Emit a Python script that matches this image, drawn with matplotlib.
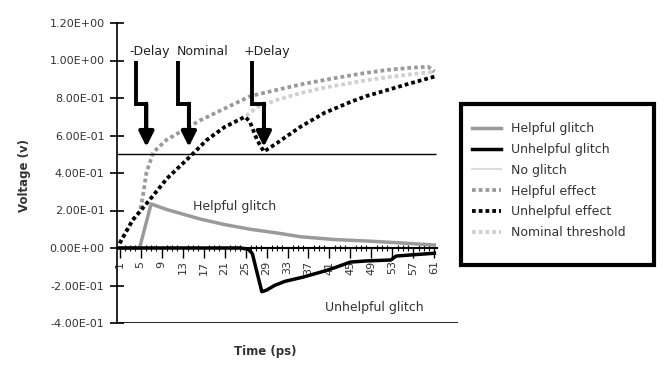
import matplotlib
matplotlib.use("Agg")
import matplotlib.pyplot as plt
from matplotlib.patches import Rectangle
from matplotlib.ticker import FixedLocator, FuncFormatter

# ---------------- data ----------------
helpful_glitch_x = [1, 4.8, 7.0, 10, 16.3, 21, 25.9, 31, 35.5, 42, 48.3, 54, 61]
helpful_glitch_y = [0, 0, 0.235, 0.205, 0.155, 0.125, 0.10, 0.08, 0.06, 0.045, 0.037, 0.028, 0.016]

unhelpful_glitch_x = [1, 24.0, 25.5, 26.3, 28.1, 29, 30.5, 32.5, 36, 39.9, 42, 45, 48, 52.7, 53.7, 57, 61]
unhelpful_glitch_y = [0, 0, -0.006, -0.03, -0.233, -0.225, -0.2, -0.178, -0.155, -0.124, -0.105, -0.075,
                      -0.069, -0.064, -0.043, -0.036, -0.028]

no_glitch_x = [1, 61]
no_glitch_y = [0, 0]

helpful_effect_x = [1, 3.5, 4.8, 5.4, 6.1, 7.4, 9.9, 13.8, 16.3, 20, 25.9, 32, 36, 41.8, 47, 52.1, 56, 59.8, 61]
helpful_effect_y = [0.025, 0.15, 0.19, 0.27, 0.40, 0.51, 0.576, 0.64, 0.68, 0.73, 0.81, 0.85, 0.875,
                    0.905, 0.93, 0.95, 0.96, 0.967, 0.94]

unhelpful_effect_x = [1, 3.5, 6.7, 10, 14.4, 17.6, 21, 24.9, 25.8, 27.2, 28.5, 31, 35.5, 40, 45.1, 48, 52.1, 56, 61]
unhelpful_effect_y = [0.025, 0.15, 0.256, 0.37, 0.487, 0.576, 0.645, 0.70, 0.675, 0.576, 0.514, 0.56,
                      0.647, 0.72, 0.78, 0.81, 0.843, 0.875, 0.914]

nominal_x = [1, 3.5, 6.7, 10, 14.4, 17.6, 21, 24.9, 27.2, 31, 35.5, 40, 44, 48.3, 52, 56, 61]
nominal_y = [0.025, 0.15, 0.256, 0.37, 0.487, 0.576, 0.645, 0.70, 0.75, 0.79, 0.826, 0.855, 0.875,
             0.896, 0.91, 0.925, 0.94]

threshold = 0.5
x_ticks = list(range(1, 62, 4))
y_ticks = [-0.4, -0.2, 0.0, 0.2, 0.4, 0.6, 0.8, 1.0, 1.2]

arrow_labels = ["-Delay", "Nominal", "+Delay"]
arrow_label_x = [2.9, 11.9, 24.6]
arrow_top_x = [4.2, 12.05, 26.3]
arrow_tip_x = [6.1, 14.2, 28.5]
arrow_top_y = 1.0
arrow_jog_y = 0.77
arrow_tip_y = 0.54

# ---------------- figure ----------------
plt.rcParams['font.family'] = ['DejaVu Sans']
fig = plt.figure(figsize=(6.72, 3.71), dpi=100)
ax = fig.add_axes([117/672, 1-323/371, (458-117)/672, (323-23)/371])

dot = (0, (1, 0.8))
l_nom, = ax.plot(nominal_x, nominal_y, color='#d0d0d0', lw=2.7, ls=dot, dash_capstyle='butt',
                 label='Nominal threshold')
l_ng, = ax.plot(no_glitch_x, no_glitch_y, color='#dcdcdc', lw=1.5, label='No glitch')
l_he, = ax.plot(helpful_effect_x, helpful_effect_y, color='#9a9a9a', lw=2.7, ls=dot,
                dash_capstyle='butt', label='Helpful effect')
l_ue, = ax.plot(unhelpful_effect_x, unhelpful_effect_y, color='black', lw=2.7, ls=dot,
                dash_capstyle='butt', label='Unhelpful effect')
l_hg, = ax.plot(helpful_glitch_x, helpful_glitch_y, color='#9a9a9a', lw=2.5, label='Helpful glitch')
l_ug, = ax.plot(unhelpful_glitch_x, unhelpful_glitch_y, color='black', lw=2.5, label='Unhelpful glitch')

ax.hlines(threshold, 0.5, 61.3, color='black', lw=1)

ax.set_xlim(0.5, 65.5)
ax.set_ylim(-0.4, 1.2)

for sp in ['top', 'right']:
    ax.spines[sp].set_visible(False)
ax.spines['bottom'].set_position(('data', 0))
ax.spines['bottom'].set_bounds(0.5, 61.5)
ax.spines['left'].set_linewidth(1.2)
ax.spines['bottom'].set_linewidth(1.5)
ax.axhline(-0.4, color='black', lw=1.2)

ax.yaxis.set_major_locator(FixedLocator(y_ticks))
ax.yaxis.set_major_formatter(FuncFormatter(lambda v, p: '{:.2E}'.format(v)))
ax.tick_params(axis='y', direction='inout', length=10, width=1.2, labelsize=8, colors='black',
               labelcolor='#333333', pad=4)

ax.xaxis.set_major_locator(FixedLocator(x_ticks))
ax.xaxis.set_minor_locator(FixedLocator(list(range(1, 62))))
ax.set_xticklabels([str(t) for t in x_ticks], rotation=90)
ax.tick_params(axis='x', which='major', direction='out', length=7, width=1, labelsize=8,
               labelcolor='#333333', pad=2)
ax.tick_params(axis='x', which='minor', direction='inout', length=5, width=0.8)

# arrows
for lab, lx, xt, xp in zip(arrow_labels, arrow_label_x, arrow_top_x, arrow_tip_x):
    ax.plot([xt, xt, xp, xp], [arrow_top_y, arrow_jog_y, arrow_jog_y, arrow_tip_y + 0.05],
            color='black', lw=2.8, solid_joinstyle='miter', solid_capstyle='butt')
    ax.annotate('', xy=(xp, arrow_tip_y), xytext=(xp, arrow_jog_y),
                arrowprops=dict(arrowstyle='-|>,head_width=0.45,head_length=0.9', lw=2.8,
                                color='black', shrinkA=0, shrinkB=0))
    ax.text(lx, 1.05, lab, ha='left', va='center', fontsize=9, color='#222222')

ax.text(23.0, 0.22, 'Helpful glitch', ha='center', va='center', fontsize=9, color='#333333')
ax.text(49.6, -0.318, 'Unhelpful glitch', ha='center', va='center', fontsize=9, color='#333333')

fig.text(25/672, 1-175/371, 'Voltage (v)', rotation=90, ha='center', va='center',
         fontsize=8.5, fontweight='bold', color='#333333')
fig.text(265/672, 1-352/371, 'Time (ps)', ha='center', va='center',
         fontsize=8.5, fontweight='bold', color='#333333')

# legend
fig.patches.append(Rectangle((461/672, 1-265/371), (654-461)/672, (265-104)/371,
                             transform=fig.transFigure, fill=False, lw=3, edgecolor='black'))
fig.legend(handles=[l_hg, l_ug, l_ng, l_he, l_ue, l_nom], loc='upper left',
           bbox_to_anchor=(466/672, 1-116/371), frameon=False, fontsize=9,
           handlelength=2.3, labelspacing=0.62, handletextpad=0.8, borderpad=0,
           labelcolor='#333333')

fig.savefig('out.png', dpi=100)
